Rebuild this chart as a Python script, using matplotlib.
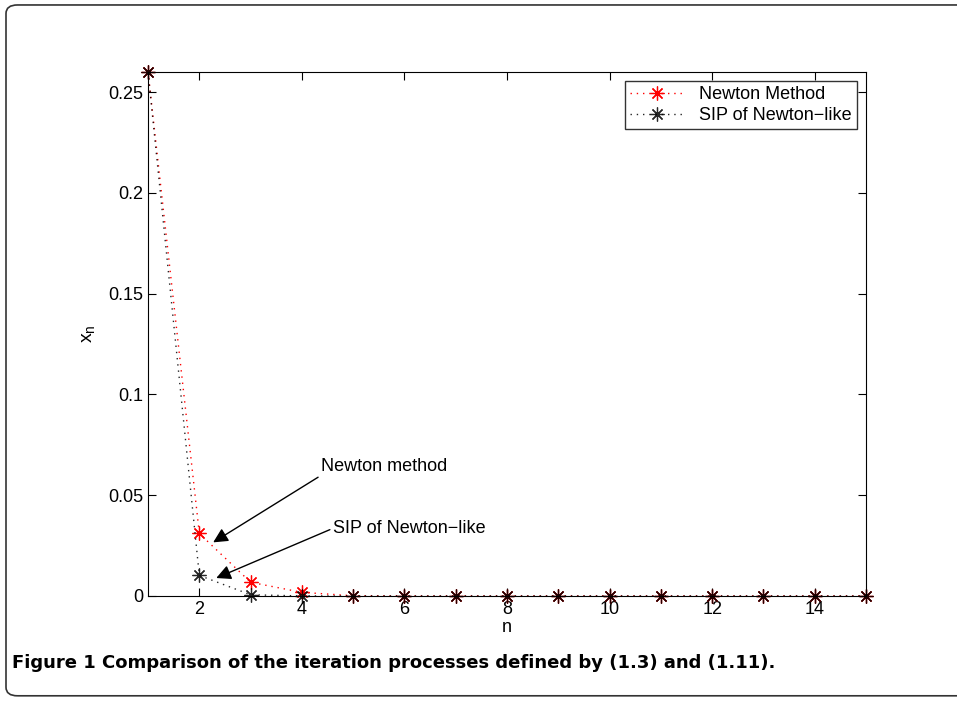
import numpy as np
import matplotlib.pyplot as plt
from matplotlib.patches import FancyBboxPatch

n = np.arange(1, 16)
newton = [0.26, 0.031, 0.0068, 0.0018, 0.0001, 0, 0, 0, 0, 0, 0, 0, 0, 0, 0]
sip = [0.26, 0.0102, 0.0006, 0.00002, 0, 0, 0, 0, 0, 0, 0, 0, 0, 0, 0]

plt.rcParams['font.family'] = ['Liberation Sans', 'DejaVu Sans']

fig = plt.figure(figsize=(9.57, 7.10), dpi=100)

# рамка вокруг рисунка
frame = FancyBboxPatch((6 / 957, 0.02), 1.2, 0.973, boxstyle='round,pad=0,rounding_size=0.012',
                       transform=fig.transFigure, fill=False, edgecolor='#333333', lw=1.2)
fig.patches.append(frame)

ax = fig.add_axes([0.1547, 0.1606, 0.7502, 0.738])
star = (8, 2, 0)
dots = (0, (1, 3.5))
ax.plot(n, newton, color='red', ls=dots, marker=star, markersize=10, mew=0.9, lw=1,
        label='Newton Method', clip_on=False)
ax.plot(n, sip, color='black', ls=dots, marker=star, markersize=10, mew=0.9, lw=1,
        label='SIP of Newton\u2212like', clip_on=False, alpha=0.85)

ax.set_xlim(1, 15)
ax.set_ylim(0, 0.26)
ax.set_xticks(range(2, 15, 2))
ax.set_yticks([0, 0.05, 0.1, 0.15, 0.2, 0.25])
ax.set_yticklabels(['0', '0.05', '0.1', '0.15', '0.2', '0.25'])
ax.tick_params(direction='in', top=True, right=True, labelsize=13, length=6)
ax.set_xlabel('n', fontsize=13, labelpad=1)
ax.set_ylabel('$\\mathregular{x_n}$', fontsize=14, labelpad=8)

ax.annotate('Newton method', xy=(2.27, 0.0266), xytext=(4.37, 0.064),
            fontsize=13, ha='left', va='center',
            arrowprops=dict(arrowstyle='-|>', color='black', lw=1, mutation_scale=22,
                            shrinkA=0, shrinkB=0, relpos=(0, 0)))
ax.annotate('SIP of Newton\u2212like', xy=(2.33, 0.0089), xytext=(4.6, 0.0335),
            fontsize=13, ha='left', va='center',
            arrowprops=dict(arrowstyle='-|>', color='black', lw=1, mutation_scale=22,
                            shrinkA=0, shrinkB=0, relpos=(0, 0.5)))

leg = ax.legend(loc='upper right', fontsize=13, frameon=True, fancybox=False,
                edgecolor='black', borderaxespad=0.5, handlelength=3, numpoints=1,
                borderpad=0.3, labelspacing=0.2)
leg.get_frame().set_linewidth(1)

t1 = fig.text(12 / 957, 1 - 663 / 710, 'Figure 1', fontsize=13, fontweight='bold',
              family='DejaVu Sans', va='center')
bb = t1.get_window_extent(renderer=fig.canvas.get_renderer())
fig.text(bb.x1 / 957 + 6 / 957, 1 - 663 / 710,
         'Comparison of the iteration processes defined by (1.3) and (1.11).',
         fontsize=13, fontweight='semibold', family='DejaVu Sans', va='center')

fig.savefig('out.png', dpi=100)
